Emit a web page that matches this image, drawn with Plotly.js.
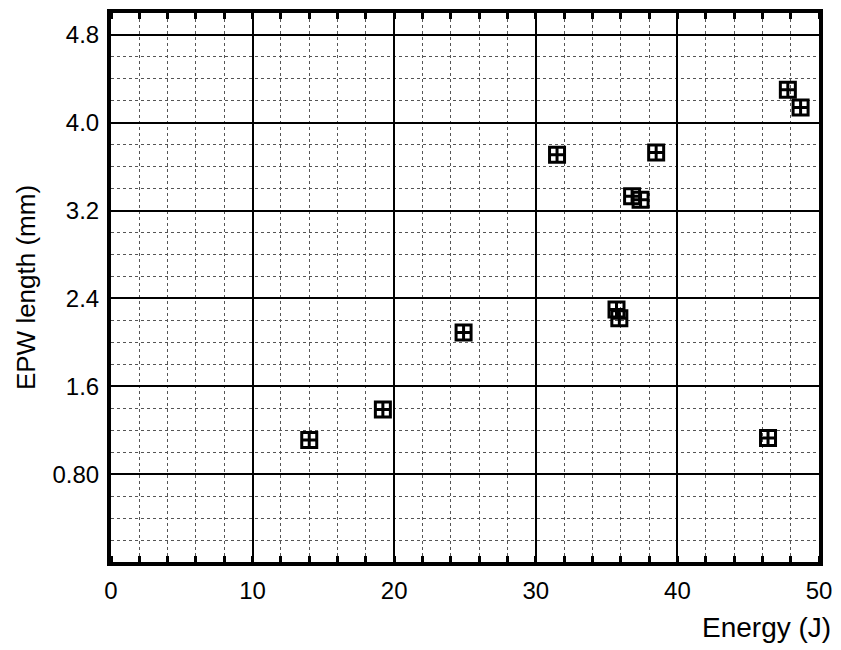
<!DOCTYPE html>
<html>
<head>
<meta charset="utf-8">
<script src="https://cdn.plot.ly/plotly-3.0.1.min.js"></script>
<style>html,body{margin:0;padding:0;background:#fff;}#chart{width:841px;height:650px;}</style>
</head>
<body>
<div id="chart"></div>
<script>
// Data
var energyJ = [14.0, 19.2, 24.9, 31.5, 38.5, 36.8, 37.4, 35.7, 35.9, 46.4, 47.8, 48.7];
var epwLengthMm = [1.11, 1.39, 2.09, 3.71, 3.73, 3.33, 3.30, 2.30, 2.22, 1.13, 4.30, 4.14];
var xTickVals = [0, 10, 20, 30, 40, 50];
var xTickText = ["0", "10", "20", "30", "40", "50"];
var yTickVals = [0.8, 1.6, 2.4, 3.2, 4.0, 4.8];
var yTickText = ["0.80", "1.6", "2.4", "3.2", "4.0", "4.8"];

var font = "Liberation Sans, Arial, Helvetica, sans-serif";

var trace = {
  x: energyJ,
  y: epwLengthMm,
  type: "scatter",
  mode: "markers",
  marker: {
    symbol: "square-cross-open",
    size: 15,
    color: "#000",
    line: {width: 3, color: "#000"}
  },
  showlegend: false,
  hoverinfo: "x+y"
};

var layout = {
  width: 841,
  height: 650,
  margin: {l: 111, r: 22, t: 13, b: 88},
  paper_bgcolor: "#fff",
  plot_bgcolor: "#fff",
  font: {family: font, color: "#000"},
  showlegend: false,
  xaxis: {
    range: [0, 50],
    tickmode: "array",
    tickvals: xTickVals,
    ticktext: xTickText,
    ticks: "",
    showgrid: true,
    gridcolor: "#000",
    gridwidth: 2,
    zeroline: false,
    showline: true,
    linecolor: "#000",
    linewidth: 4,
    mirror: "allticks",
    tickfont: {size: 24, family: font, color: "#000"},
    ticklabelstandoff: 4,
    minor: {
      tick0: 0,
      dtick: 2,
      showgrid: true,
      gridcolor: "#555",
      gridwidth: 1,
      griddash: "dot",
      ticks: "inside",
      ticklen: 6,
      tickwidth: 3,
      tickcolor: "#000"
    }
  },
  yaxis: {
    range: [0, 5],
    tickmode: "array",
    tickvals: yTickVals,
    ticktext: yTickText,
    ticks: "",
    showgrid: true,
    gridcolor: "#000",
    gridwidth: 2,
    zeroline: false,
    showline: true,
    linecolor: "#000",
    linewidth: 4,
    mirror: true,
    tickfont: {size: 24, family: font, color: "#000"},
    ticklabelstandoff: 3,
    title: {text: "EPW length (mm)", font: {size: 26, family: font, color: "#000"}, standoff: 10},
    minor: {
      tick0: 0,
      dtick: 0.2,
      showgrid: true,
      gridcolor: "#555",
      gridwidth: 1,
      griddash: "dot",
      ticks: ""
    }
  },
  annotations: [{
    text: "Energy (J)",
    xref: "paper",
    yref: "paper",
    x: 1.02,
    y: -0.088,
    xanchor: "right",
    yanchor: "top",
    showarrow: false,
    font: {size: 28, family: font, color: "#000"}
  }]
};

Plotly.newPlot("chart", [trace], layout, {displayModeBar: false, staticPlot: true});
</script>
</body>
</html>
